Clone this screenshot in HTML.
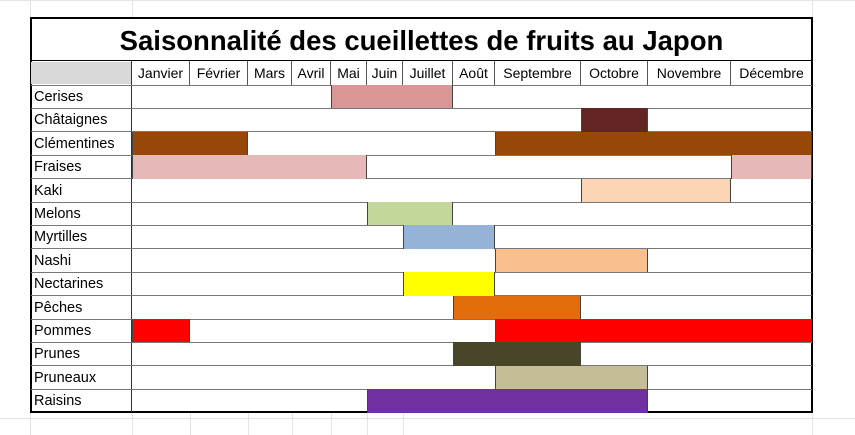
<!DOCTYPE html>
<html><head><meta charset="utf-8"><style>
body{margin:0;width:855px;height:435px;background:#fff;position:relative;overflow:hidden;font-family:"Liberation Sans",Arial,sans-serif}
.a{position:absolute;box-sizing:border-box}
.h{font-size:14px;line-height:25px;height:24px;top:61px;border-right:1px solid #555;text-align:center;white-space:nowrap}
.l{left:34px;font-size:14.5px;line-height:25px;height:23px}
.r{left:31px;width:781px;height:1px;background:#777}
.b{height:23.4px;border-left:1px solid #444;border-right:1px solid #444}
.g{background:#e4e4e4}
</style></head><body>
<div class="a g" style="left:0;top:0;width:855px;height:1px"></div>
<div class="a g" style="left:0;top:418px;width:855px;height:1px"></div>
<div class="a g" style="left:30px;top:0;width:1px;height:435px"></div>
<div class="a g" style="left:132px;top:0;width:1px;height:18px"></div>
<div class="a g" style="left:132px;top:412px;width:1px;height:23px"></div>
<div class="a g" style="left:190px;top:412px;width:1px;height:23px"></div>
<div class="a g" style="left:248px;top:412px;width:1px;height:23px"></div>
<div class="a g" style="left:292px;top:412px;width:1px;height:23px"></div>
<div class="a g" style="left:331px;top:412px;width:1px;height:23px"></div>
<div class="a g" style="left:367px;top:412px;width:1px;height:23px"></div>
<div class="a g" style="left:403px;top:412px;width:1px;height:23px"></div>
<div class="a g" style="left:812px;top:0;width:1px;height:435px"></div>

<div class="a" style="left:30px;top:17px;width:783px;height:396px;border:2px solid #000"></div>
<div class="a" style="left:31px;top:18px;width:781px;height:43px;text-align:center;font-weight:bold;font-size:27.5px;line-height:46px">Saisonnalité des cueillettes de fruits au Japon</div>
<div class="a" style="left:31px;top:60px;width:781px;height:1px;background:#000"></div>
<div class="a" style="left:31px;top:62px;width:101px;height:22px;background:#d9d9d9"></div>

<div class="a h" style="left:132px;width:58px">Janvier</div>
<div class="a h" style="left:190px;width:58px">Février</div>
<div class="a h" style="left:248px;width:44px">Mars</div>
<div class="a h" style="left:292px;width:39px">Avril</div>
<div class="a h" style="left:331px;width:36px">Mai</div>
<div class="a h" style="left:367px;width:36px">Juin</div>
<div class="a h" style="left:403px;width:50px">Juillet</div>
<div class="a h" style="left:453px;width:42px">Août</div>
<div class="a h" style="left:495px;width:86px">Septembre</div>
<div class="a h" style="left:581px;width:67px">Octobre</div>
<div class="a h" style="left:648px;width:83px">Novembre</div>
<div class="a h" style="left:731px;width:81px;border-right:none">Décembre</div>
<div class="a" style="left:131px;top:61px;width:1px;height:351px;background:#333"></div>

<div class="a r" style="top:84.5px"></div>
<div class="a r" style="top:108px"></div>
<div class="a r" style="top:131.3px"></div>
<div class="a r" style="top:154.7px"></div>
<div class="a r" style="top:178px"></div>
<div class="a r" style="top:201.5px"></div>
<div class="a r" style="top:224.9px"></div>
<div class="a r" style="top:248.3px"></div>
<div class="a r" style="top:271.7px"></div>
<div class="a r" style="top:295.1px"></div>
<div class="a r" style="top:318.5px"></div>
<div class="a r" style="top:341.9px"></div>
<div class="a r" style="top:365.3px"></div>
<div class="a r" style="top:388.7px"></div>

<div class="a b" style="top:85px;left:331px;width:122px;background:#da9694"></div>
<div class="a b" style="top:108.4px;left:581px;width:67px;background:#632523"></div>
<div class="a b" style="top:131.8px;left:132px;width:116px;background:#974706"></div>
<div class="a b" style="top:131.8px;left:495px;width:317px;background:#974706"></div>
<div class="a b" style="top:155.2px;left:132px;width:235px;background:#e6b9b8"></div>
<div class="a b" style="top:155.2px;left:731px;width:81px;background:#e6b9b8"></div>
<div class="a b" style="top:178.6px;left:581px;width:150px;background:#fcd5b4"></div>
<div class="a b" style="top:202px;left:367px;width:86px;background:#c4d79b"></div>
<div class="a b" style="top:225.4px;left:403px;width:92px;background:#95b3d7"></div>
<div class="a b" style="top:248.8px;left:495px;width:153px;background:#fabf8f"></div>
<div class="a b" style="top:272.2px;left:403px;width:92px;background:#ffff00"></div>
<div class="a b" style="top:295.6px;left:453px;width:128px;background:#e46c0a"></div>
<div class="a b" style="top:319px;left:132px;width:58px;background:#ff0000"></div>
<div class="a b" style="top:319px;left:495px;width:317px;background:#ff0000"></div>
<div class="a b" style="top:342.4px;left:453px;width:128px;background:#494529"></div>
<div class="a b" style="top:365.8px;left:495px;width:153px;background:#c4bd97"></div>
<div class="a b" style="top:389.2px;left:367px;width:281px;background:#7030a0"></div>

<div class="a l" style="top:85px">Cerises</div>
<div class="a l" style="top:108.4px">Châtaignes</div>
<div class="a l" style="top:131.8px">Clémentines</div>
<div class="a l" style="top:155.2px">Fraises</div>
<div class="a l" style="top:178.6px">Kaki</div>
<div class="a l" style="top:202px">Melons</div>
<div class="a l" style="top:225.4px">Myrtilles</div>
<div class="a l" style="top:248.8px">Nashi</div>
<div class="a l" style="top:272.2px">Nectarines</div>
<div class="a l" style="top:295.6px">Pêches</div>
<div class="a l" style="top:319px">Pommes</div>
<div class="a l" style="top:342.4px">Prunes</div>
<div class="a l" style="top:365.8px">Pruneaux</div>
<div class="a l" style="top:389.2px">Raisins</div>
</body></html>
